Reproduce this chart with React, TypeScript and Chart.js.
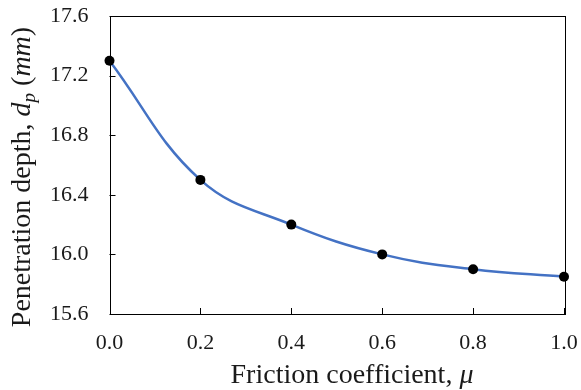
import React, { useEffect, useRef } from "react";
import { Chart, registerables } from "chart.js";

Chart.register(...registerables);

const frictionCoeff = [0.0, 0.2, 0.4, 0.6, 0.8, 1.0];
const penetrationDepth = [17.3, 16.5, 16.2, 16.0, 15.9, 15.85];
const xTicks = [0.0, 0.2, 0.4, 0.6, 0.8, 1.0];
const yTicks = [15.6, 16.0, 16.4, 16.8, 17.2, 17.6];
const xTitle = "Friction coefficient, ";
const xTitleSymbol = "μ";
const yTitleParts: { t: string; italic: boolean; sub?: boolean }[] = [
  { t: "Penetration depth, ", italic: false },
  { t: "d", italic: true },
  { t: "p", italic: true, sub: true },
  { t: " (", italic: false },
  { t: "mm", italic: true },
  { t: ")", italic: false },
];

const FONT = "'Liberation Serif', 'Times New Roman', serif";

const framePlugin = {
  id: "frame",
  afterDraw(chart: any) {
    const { ctx, chartArea } = chart;
    const { left, right, top, bottom } = chartArea;
    const xs = chart.scales.x;
    const ys = chart.scales.y;
    ctx.save();
    ctx.strokeStyle = "#000";
    ctx.lineWidth = 1;
    ctx.strokeRect(Math.round(left) + 0.5, Math.round(top) + 0.5, Math.round(right - left), Math.round(bottom - top));
    // inward ticks
    ctx.beginPath();
    xTicks.forEach((v) => {
      const px = Math.round(xs.getPixelForValue(v)) + 0.5;
      ctx.moveTo(px, bottom);
      ctx.lineTo(px, bottom - 6);
    });
    yTicks.forEach((v) => {
      const py = Math.round(ys.getPixelForValue(v)) + 0.5;
      ctx.moveTo(left, py);
      ctx.lineTo(left + 6, py);
    });
    ctx.stroke();

    // x title
    const size = 28;
    const subSize = 19;
    ctx.fillStyle = "#1a1a1a";
    ctx.textBaseline = "alphabetic";
    ctx.font = `${size}px ${FONT}`;
    const w1 = ctx.measureText(xTitle).width;
    ctx.font = `italic ${size}px ${FONT}`;
    const w2 = ctx.measureText(xTitleSymbol).width;
    const x0 = 352 - (w1 + w2) / 2;
    const ty = 383;
    ctx.textAlign = "left";
    ctx.font = `${size}px ${FONT}`;
    ctx.fillText(xTitle, x0, ty);
    ctx.font = `italic ${size}px ${FONT}`;
    ctx.fillText(xTitleSymbol, x0 + w1, ty);

    // y title (rotated)
    let total = 0;
    const widths = yTitleParts.map((p) => {
      ctx.font = `${p.italic ? "italic " : ""}${p.sub ? subSize : size}px ${FONT}`;
      const w = ctx.measureText(p.t).width;
      total += w;
      return w;
    });
    ctx.translate(30, 177);
    ctx.rotate(-Math.PI / 2);
    let cx = -total / 2;
    yTitleParts.forEach((p, i) => {
      ctx.font = `${p.italic ? "italic " : ""}${p.sub ? subSize : size}px ${FONT}`;
      ctx.fillText(p.t, cx, p.sub ? 5 : 0);
      cx += widths[i];
    });
    ctx.restore();
  },
};

const zeroPad = (s: any) => {
  s.paddingTop = 0;
  s.paddingBottom = 0;
  s.paddingLeft = 0;
  s.paddingRight = 0;
};

export default function App() {
  const ref = useRef<HTMLCanvasElement>(null);
  useEffect(() => {
    document.body.style.margin = "0";
    const chart = new Chart(ref.current!, {
      type: "line",
      data: {
        labels: frictionCoeff,
        datasets: [
          {
            data: frictionCoeff.map((x, i) => ({ x, y: penetrationDepth[i] })),
            borderColor: "#4472C4",
            borderWidth: 2.5,
            tension: 0.4,
            pointRadius: 5,
            pointHoverRadius: 5,
            pointBackgroundColor: "#000",
            pointBorderColor: "#000",
            pointBorderWidth: 0,
            clip: false as any,
          },
        ],
      },
      options: {
        animation: false,
        responsive: false,
        layout: { padding: { top: 16, right: 17, left: 0, bottom: 0 } },
        plugins: { legend: { display: false }, tooltip: { enabled: false } },
        scales: {
          x: {
            type: "linear",
            min: 0,
            max: 1,
            afterBuildTicks: (s: any) => {
              s.ticks = xTicks.map((v) => ({ value: v }));
            },
            afterFit: (s: any) => {
              s.height = 76;
              zeroPad(s);
            },
            grid: { display: false, drawTicks: false },
            border: { display: false },
            ticks: {
              padding: 16,
              color: "#1a1a1a",
              font: { family: FONT, size: 22 },
              callback: (v: any) => Number(v).toFixed(1),
            },
          },
          y: {
            type: "linear",
            min: 15.6,
            max: 17.6,
            afterBuildTicks: (s: any) => {
              s.ticks = yTicks.map((v) => ({ value: v }));
            },
            afterFit: (s: any) => {
              s.width = 109.5;
              zeroPad(s);
            },
            grid: { display: false, drawTicks: false },
            border: { display: false },
            ticks: {
              padding: 21,
              color: "#1a1a1a",
              font: { family: FONT, size: 22 },
              callback: (v: any) => Number(v).toFixed(1),
            },
          },
        },
      },
      plugins: [framePlugin],
    });
    return () => chart.destroy();
  }, []);
  return (
    <div style={{ width: 581, height: 390, background: "#fff" }}>
      <canvas ref={ref} width={581} height={390} />
    </div>
  );
}
